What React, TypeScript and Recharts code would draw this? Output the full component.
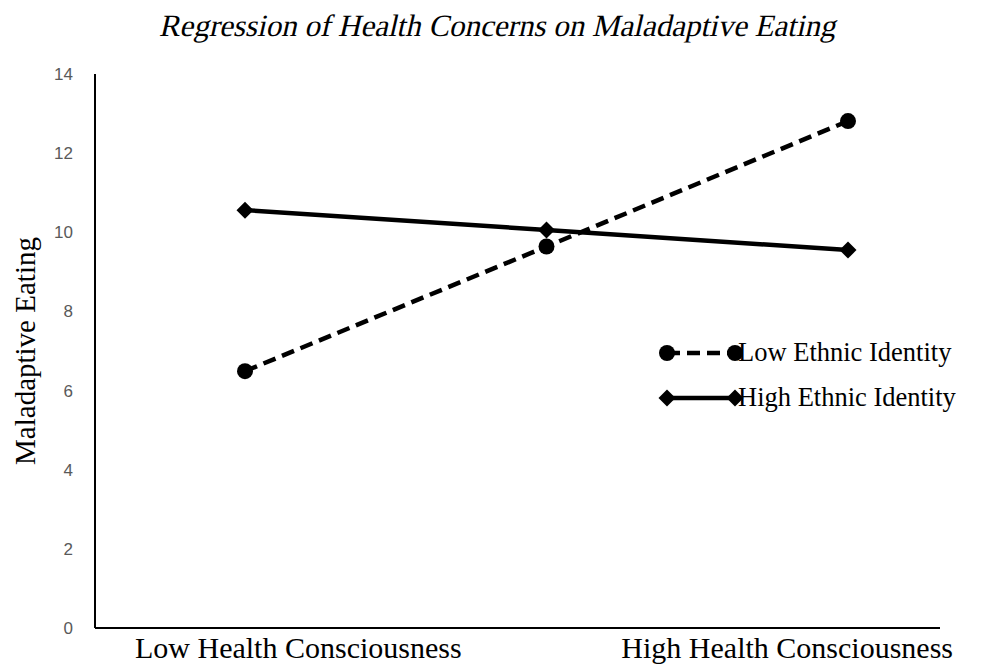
import React from 'react';
import { LineChart, Line, XAxis, YAxis, Legend } from 'recharts';

const categories = ['Low Health Consciousness', '', 'High Health Consciousness'];
const lowEthnic = [6.49, 9.64, 12.81];
const highEthnic = [10.56, 10.06, 9.55];
const yTicks = [0, 2, 4, 6, 8, 10, 12, 14];
const seriesNames = ['Low Ethnic Identity', 'High Ethnic Identity'];
const titleText = 'Regression of Health Concerns on Maladaptive Eating';
const yLabelText = 'Maladaptive Eating';

const data = categories.map((c, i) => ({ cat: c, low: lowEthnic[i], high: highEthnic[i] }));

const SERIF = '"Liberation Serif", "Times New Roman", serif';
const SANS = '"Liberation Sans", Arial, sans-serif';

const CircleDot = (props: any) => {
  const { cx, cy } = props;
  if (cx == null || cy == null) return null;
  return <circle cx={cx} cy={cy} r={8} fill="#000" stroke="none" />;
};

const DiamondDot = (props: any) => {
  const { cx, cy } = props;
  if (cx == null || cy == null) return null;
  const s = 8.5;
  return <path d={`M${cx},${cy - s}L${cx + s},${cy}L${cx},${cy + s}L${cx - s},${cy}Z`} fill="#000" stroke="none" />;
};

const CategoryTick = (props: any) => {
  const { x, y, payload, index, visibleTicksCount } = props;
  const value = payload && payload.value;
  if (!value) return null;
  const last = visibleTicksCount != null ? index === visibleTicksCount - 1 : index > 0;
  const anchor = index === 0 ? 'start' : last ? 'end' : 'middle';
  const dx = index === 0 ? -110 : last ? 105 : 0;
  return (
    <text x={x + dx} y={y} dy="0.71em" textAnchor={anchor} fontFamily={SERIF} fontSize={30} fill="#000">
      {value}
    </text>
  );
};

const LegendContent = () => (
  <div style={{ fontFamily: SERIF, fontSize: 26.5, color: '#000', lineHeight: 1 }}>
    {seriesNames.map((n, i) => (
      <div key={n} style={{ display: 'flex', alignItems: 'center', height: 45 }}>
        <svg width={86} height={24} style={{ display: 'block', flex: 'none' }}>
          {i === 0 ? (
            <g>
              <line x1={9} y1={12} x2={77} y2={12} stroke="#000" strokeWidth={4.5} strokeDasharray="13 7" />
              <circle cx={9} cy={12} r={8} fill="#000" />
              <circle cx={77} cy={12} r={8} fill="#000" />
            </g>
          ) : (
            <g>
              <line x1={9} y1={12} x2={77} y2={12} stroke="#000" strokeWidth={4.5} />
              <path d="M9,3.5L17.5,12L9,20.5L0.5,12Z" fill="#000" />
              <path d="M77,3.5L85.5,12L77,20.5L68.5,12Z" fill="#000" />
            </g>
          )}
        </svg>
        <span style={{ marginLeft: -6, whiteSpace: 'nowrap' }}>{n}</span>
      </div>
    ))}
  </div>
);

const YLabel = (props: any) => {
  const vb = props.viewBox || { x: 0, y: 74, width: 95, height: 554 };
  const x = vb.x + 35;
  const y = vb.y + vb.height / 2;
  return (
    <text x={x} y={y} transform={`rotate(-90 ${x} ${y})`} textAnchor="middle" fontFamily={SERIF} fontSize={29} fill="#000">
      {yLabelText}
    </text>
  );
};

export default function App() {
  return (
    <div style={{ position: 'absolute', left: 0, top: 0, width: 987, height: 666, background: '#fff', overflow: 'hidden' }}>
      <div
        style={{
          position: 'absolute',
          left: 0,
          top: 9,
          width: 998,
          textAlign: 'center',
          fontFamily: SERIF,
          fontSize: 31,
          lineHeight: '34px',
          color: '#000',
          zIndex: 2,
          whiteSpace: 'nowrap',
        }}
      >
        <span style={{ display: 'inline-block', transform: 'skewX(-13deg)' }}>{titleText}</span>
      </div>
      <LineChart width={987} height={666} data={data} margin={{ top: 74, right: 47, bottom: 0, left: 0 }}>
        <XAxis
          dataKey="cat"
          interval={0}
          padding={{ left: 150, right: 92 }}
          height={38}
          axisLine={{ stroke: '#000', strokeWidth: 2 }}
          tickLine={false}
          tickSize={4}
          tickMargin={5}
          tick={<CategoryTick />}
        />
        <XAxis
          xAxisId="top"
          orientation="top"
          dataKey="cat"
          height={0}
          padding={{ left: 150, right: 92 }}
          tick={false}
          tickLine={false}
          axisLine={{ stroke: '#000', strokeWidth: 2 }}
        />
        <YAxis
          domain={[0, 14]}
          ticks={yTicks}
          width={95}
          interval={0}
          axisLine={{ stroke: '#000', strokeWidth: 2 }}
          tickLine={false}
          tickSize={10}
          tickMargin={12}
          tick={{ fill: '#595959', fontSize: 17, fontFamily: SANS }}
          label={{ content: (p: any) => <YLabel {...p} /> }}
        />
        <YAxis
          yAxisId="right"
          orientation="right"
          width={0}
          domain={[0, 14]}
          tick={false}
          tickLine={false}
          axisLine={{ stroke: '#000', strokeWidth: 2 }}
        />
        <Legend
          layout="vertical"
          align="center"
          verticalAlign="middle"
          content={() => <LegendContent />}
          wrapperStyle={{ position: 'absolute', left: 658, top: 330, width: 330 }}
        />
        <Line
          type="linear"
          dataKey="low"
          name={seriesNames[0]}
          stroke="#000"
          strokeWidth={4.5}
          strokeDasharray="13 7"
          dot={<CircleDot />}
          activeDot={false}
          isAnimationActive={false}
        />
        <Line
          type="linear"
          dataKey="high"
          name={seriesNames[1]}
          stroke="#000"
          strokeWidth={4.5}
          dot={<DiamondDot />}
          activeDot={false}
          isAnimationActive={false}
        />
      </LineChart>
    </div>
  );
}
